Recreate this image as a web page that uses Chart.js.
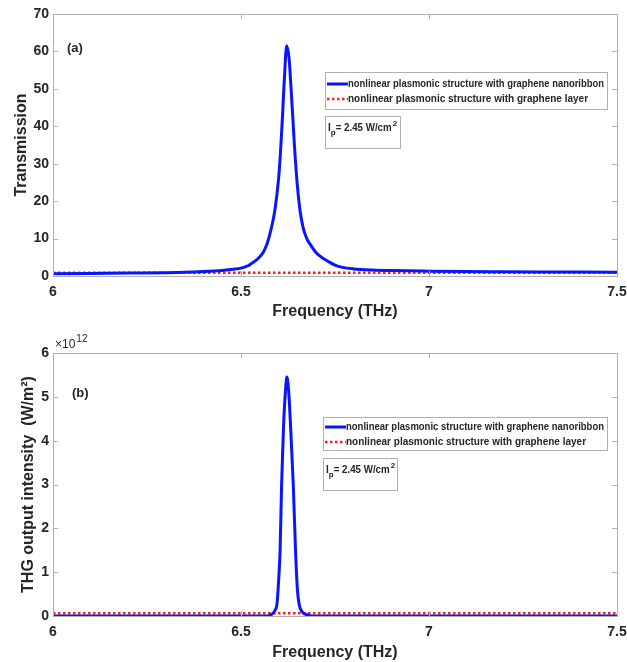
<!DOCTYPE html>
<html>
<head>
<meta charset="utf-8">
<script src="https://cdn.jsdelivr.net/npm/chart.js@4.4.1/dist/chart.umd.min.js"></script>
<style>
  html, body { margin: 0; padding: 0; background: #fff; }
  #wrap { position: relative; width: 627px; height: 662px; }
  canvas { position: absolute; left: 0; }
</style>
</head>
<body>
<div id="wrap">
  <canvas id="chartA" width="627" height="330" style="top:0;width:627px;height:330px"></canvas>
  <canvas id="chartB" width="627" height="332" style="top:330px;width:627px;height:332px"></canvas>
</div>
<script>
// x ticks shared by both panels
const freqTicks = [6, 6.5, 7, 7.5];

// (a) transmission, graphene nanoribbon
const freqA = [6.00, 6.10, 6.20, 6.30, 6.35, 6.40, 6.45, 6.48, 6.50, 6.52, 6.53, 6.545,
  6.56, 6.57, 6.58, 6.59, 6.60, 6.605, 6.61, 6.615, 6.6215, 6.628, 6.632, 6.638, 6.642,
  6.65, 6.657, 6.665, 6.675, 6.685, 6.70, 6.72, 6.73, 6.75, 6.77, 6.80, 6.85, 6.90,
  7.00, 7.10, 7.20, 7.30, 7.40, 7.50];
const transRibbon = [0.6, 0.7, 0.8, 0.9, 1.0, 1.2, 1.5, 1.8, 2.1, 2.8, 3.5, 4.6,
  6.5, 8.8, 12.5, 17.5, 26, 33, 42, 52, 61.5, 58, 52, 42, 35,
  24, 17.5, 13, 10, 8.3, 6.2, 4.6, 4.0, 2.9, 2.3, 1.9, 1.6, 1.45,
  1.3, 1.2, 1.15, 1.1, 1.05, 1.0];
// (a) transmission, graphene layer
const freqLayerA = [6.0, 6.5, 7.0, 7.5];
const transLayer = [0.9, 0.9, 0.9, 0.9];
const transTicks = [0, 10, 20, 30, 40, 50, 60, 70];

// (b) THG output intensity, in units of 10^12 W/m^2
const freqB = [6.00, 6.50, 6.57, 6.58, 6.59, 6.596, 6.600, 6.604, 6.608, 6.613, 6.618,
  6.622, 6.627, 6.632, 6.639, 6.645, 6.650, 6.655, 6.662, 6.675, 6.69, 7.00, 7.50];
const thgRibbon = [0, 0, 0, 0.03, 0.12, 0.3, 0.8, 1.5, 3.0, 4.3, 5.1,
  5.45, 5.1, 4.3, 3.0, 1.5, 0.6, 0.25, 0.1, 0.03, 0, 0, 0];
const freqLayerB = [6.0, 6.5, 7.0, 7.5];
const thgLayer = [0.06, 0.06, 0.06, 0.06];
const thgTicks = [0, 1, 2, 3, 4, 5, 6];

const legendLabels = [
  "nonlinear plasmonic structure with graphene nanoribbon",
  "nonlinear plasmonic structure with graphene layer",
];

const INK = "#262626";
const FRAME = "#b0b0b0";
const FONT = "'Liberation Sans', Arial, sans-serif";

function toPoints(xs, ys) {
  return xs.map((x, i) => ({ x: x, y: ys[i] }));
}

// frame, inward ticks, legend box, note box, panel label
const decorPlugin = {
  id: "decor",
  afterDraw(chart, args, opts) {
    const ctx = chart.ctx;
    const a = chart.chartArea;
    const xs = chart.scales.x;
    const ys = chart.scales.y;
    ctx.save();
    ctx.strokeStyle = FRAME;
    ctx.lineWidth = 1;
    ctx.strokeRect(Math.round(a.left) + 0.5, Math.round(a.top) + 0.5,
      Math.round(a.right - a.left), Math.round(a.bottom - a.top));
    ctx.beginPath();
    xs.ticks.forEach((t) => {
      const px = Math.round(xs.getPixelForValue(t.value)) + 0.5;
      ctx.moveTo(px, a.bottom); ctx.lineTo(px, a.bottom - 5);
      ctx.moveTo(px, a.top); ctx.lineTo(px, a.top + 5);
    });
    ys.ticks.forEach((t) => {
      const py = Math.round(ys.getPixelForValue(t.value)) + 0.5;
      ctx.moveTo(a.left, py); ctx.lineTo(a.left + 5, py);
      ctx.moveTo(a.right, py); ctx.lineTo(a.right - 5, py);
    });
    ctx.stroke();

    // legend
    const lb = opts.legend;
    ctx.fillStyle = "#fff";
    ctx.fillRect(lb.x, lb.y, lb.w, lb.h);
    ctx.strokeStyle = FRAME;
    ctx.strokeRect(lb.x + 0.5, lb.y + 0.5, lb.w, lb.h);
    ctx.font = "bold 10px " + FONT;
    ctx.textBaseline = "middle";
    ctx.textAlign = "left";
    chart.data.datasets.forEach((ds, i) => {
      const ry = lb.y + lb.rows[i];
      ctx.strokeStyle = ds.borderColor;
      ctx.lineWidth = ds.borderWidth;
      ctx.setLineDash(ds.borderDash || []);
      ctx.beginPath();
      ctx.moveTo(lb.x + 2, ry);
      ctx.lineTo(lb.x + 23, ry);
      ctx.stroke();
      ctx.setLineDash([]);
      ctx.fillStyle = INK;
      ctx.fillText(ds.label, lb.x + 23, ry, lb.w - 26);
    });

    // note box
    const nb = opts.note;
    ctx.lineWidth = 1;
    ctx.strokeStyle = FRAME;
    ctx.strokeRect(nb.x + 0.5, nb.y + 0.5, nb.w, nb.h);
    ctx.fillStyle = INK;
    let tx = nb.x + 3;
    const ty = nb.y + 12;
    ctx.font = "bold 10px " + FONT;
    ctx.fillText("I", tx, ty);
    tx += ctx.measureText("I").width;
    ctx.font = "bold 8px " + FONT;
    ctx.fillText("p", tx, ty + 5);
    tx += ctx.measureText("p").width;
    ctx.font = "bold 10px " + FONT;
    const mainTxt = "= 2.45 W/cm";
    ctx.fillText(mainTxt, tx, ty, 56);
    tx += Math.min(56, ctx.measureText(mainTxt).width) + 1;
    ctx.font = "bold 8px " + FONT;
    ctx.fillText("2", tx, ty - 4);

    // panel label
    ctx.font = "bold 13px " + FONT;
    ctx.fillText(opts.panel.text, opts.panel.x, opts.panel.y);

    // exponent label
    if (opts.exponent) {
      const ex = opts.exponent;
      ctx.fillStyle = INK;
      ctx.font = "12px " + FONT;
      ctx.fillText("\u00d710", ex.x, ex.y);
      const w = ctx.measureText("\u00d710").width;
      ctx.font = "10px " + FONT;
      ctx.fillText("12", ex.x + w + 1, ex.y - 6);
    }
    ctx.restore();
  },
};

function makeChart(id, cfg) {
  const tickFont = { family: FONT, size: 14, weight: "bold" };
  const titleFont = { family: FONT, size: 16, weight: "bold" };
  return new Chart(document.getElementById(id), {
    type: "line",
    data: {
      datasets: [
        {
          label: legendLabels[0],
          data: toPoints(cfg.xs, cfg.ys),
          borderColor: "#0a14ff",
          borderWidth: 3,
          pointRadius: 0,
          cubicInterpolationMode: "monotone",
          fill: false,
        },
        {
          label: legendLabels[1],
          data: toPoints(cfg.lxs, cfg.lys),
          borderColor: "#ff1a1a",
          borderWidth: 2.5,
          borderDash: [2.5, 2.5],
          pointRadius: 0,
          fill: false,
        },
      ],
    },
    options: {
      responsive: false,
      animation: false,
      layout: { padding: { top: cfg.padTop, right: 10, left: 0, bottom: 0 } },
      plugins: {
        legend: { display: false },
        tooltip: { enabled: false },
        decor: cfg.decor,
      },
      scales: {
        x: {
          type: "linear",
          min: 6,
          max: 7.5,
          afterBuildTicks: (s) => { s.ticks = freqTicks.map((v) => ({ value: v })); },
          afterFit: (s) => {
            s.height = cfg.xHeight;
            s.paddingLeft = 0;
            s.paddingRight = 0;
          },
          grid: { display: false, drawTicks: false },
          border: { display: false },
          ticks: { font: tickFont, color: INK, padding: 8, maxRotation: 0,
            callback: (v) => String(v) },
          title: { display: true, text: "Frequency (THz)", font: titleFont, color: INK,
            padding: { top: 0, bottom: cfg.xTitlePad } },
        },
        y: {
          type: "linear",
          min: 0,
          max: cfg.yTicks[cfg.yTicks.length - 1],
          afterBuildTicks: (s) => { s.ticks = cfg.yTicks.map((v) => ({ value: v })); },
          afterFit: (s) => {
            s.width = 53;
            s.paddingTop = 0;
            s.paddingBottom = 0;
          },
          grid: { display: false, drawTicks: false },
          border: { display: false },
          ticks: { font: tickFont, color: INK, padding: 4 },
          title: { display: true, text: cfg.yTitle, font: titleFont, color: INK,
            padding: { top: cfg.yTitlePad, bottom: 0 } },
        },
      },
    },
    plugins: [decorPlugin],
  });
}

makeChart("chartA", {
  xs: freqA, ys: transRibbon, lxs: freqLayerA, lys: transLayer,
  yTicks: transTicks, yTitle: "Transmission",
  padTop: 14, xHeight: 54, xTitlePad: 9, yTitlePad: 12,
  decor: {
    legend: { x: 325, y: 72, w: 282, h: 37, rows: [12, 27] },
    note: { x: 325, y: 116, w: 75, h: 32 },
    panel: { text: "(a)", x: 67, y: 48 },
  },
});

makeChart("chartB", {
  xs: freqB, ys: thgRibbon, lxs: freqLayerB, lys: thgLayer,
  yTicks: thgTicks, yTitle: "THG output intensity  (W/m\u00b2)",
  padTop: 23, xHeight: 46, xTitlePad: 0, yTitlePad: 19,
  decor: {
    legend: { x: 323, y: 87, w: 284, h: 33, rows: [10, 25] },
    note: { x: 323, y: 128, w: 74, h: 32 },
    panel: { text: "(b)", x: 72, y: 63 },
    exponent: { x: 55, y: 15 },
  },
});
</script>
</body>
</html>
